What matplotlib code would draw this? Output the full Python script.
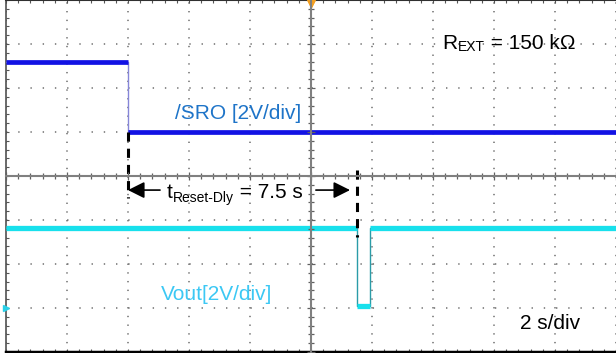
import matplotlib
matplotlib.use("Agg")
import matplotlib.pyplot as plt
from matplotlib.ticker import MultipleLocator

plt.rcParams['font.family'] = ['Liberation Sans', 'DejaVu Sans']

# time axis in seconds (2 s/div), levels in divisions from screen centre
sro_time = [-10.0, -6.0, -6.0, 10.0]
sro_level = [2.6, 2.6, 1.0, 1.0]

vout_time = [-10.0, 1.5, 1.5, 1.95, 1.95, 10.0]
vout_level = [-1.18, -1.18, -2.95, -2.95, -1.18, -1.18]
vout_ground = -3.0

reset_start = -6.0   # /SRO falls
reset_end = 1.5      # Vout pulses low, 7.5 s later

sro_label = "/SRO [2V/div]"
vout_label = "Vout[2V/div]"
timebase_label = "2 s/div"

SRO_BLUE = '#1212e4'
SRO_TEXT = '#1e74c8'
VOUT_CYAN = '#18e0ec'
VOUT_TEXT = '#3cc8f4'
GRID = '#6e6e6e'

fig = plt.figure(figsize=(6.16, 3.53), dpi=100)
ax = fig.add_axes([6 / 616, 1 / 353, 610 / 616, 352 / 353])
ax.set_xlim(-10, 10)
ax.set_ylim(-4, 4)

ax.xaxis.set_major_locator(MultipleLocator(2))
ax.xaxis.set_minor_locator(MultipleLocator(0.4))
ax.yaxis.set_major_locator(MultipleLocator(1))
ax.yaxis.set_minor_locator(MultipleLocator(0.2))
ax.tick_params(which='both', direction='in', top=True, bottom=True, left=True, right=False,
               labelbottom=False, labelleft=False, length=2.5, width=0.8, color='#555555')

# dotted graticule, dots on every minor division
ax.xaxis.grid(True, which='major', color=GRID, lw=1.1, ls=(0, (0.9, 4.8)))
ax.yaxis.grid(True, which='major', color=GRID, lw=1.1, ls=(0, (0.9, 7.1)))

ax.spines['right'].set_visible(False)
ax.spines['left'].set_color('#505050')
ax.spines['left'].set_linewidth(1.2)
ax.spines['top'].set_color('#303030')
ax.spines['top'].set_linewidth(1.5)
ax.spines['bottom'].set_color('black')
ax.spines['bottom'].set_linewidth(2.5)

# /SRO trace: thin falling edge, thick levels
ax.plot(sro_time, sro_level, color='#8686d8', lw=1, zorder=3)
ax.plot(sro_time[:2], sro_level[:2], color=SRO_BLUE, lw=3.4, solid_capstyle='butt', zorder=4)
ax.plot(sro_time[2:], sro_level[2:], color=SRO_BLUE, lw=3.4, solid_capstyle='butt', zorder=4)

# Vout trace
ax.plot(vout_time, vout_level, color='#2a9ca8', lw=1, zorder=3)
for i in range(0, len(vout_time), 2):
    ax.plot(vout_time[i:i + 2], vout_level[i:i + 2], color=VOUT_CYAN, lw=3.8,
            solid_capstyle='butt', zorder=4)

# markers: trigger position and Vout ground reference
ax.plot([0], [4.0], marker='v', color='#f5a020', ms=10, clip_on=False, zorder=8)
ax.plot([-10], [vout_ground], marker='>', color='#2ad0e8', ms=4, clip_on=False, zorder=6)

# delay markers
dash = dict(color='black', lw=2.2, ls=(0, (3, 2.3)), zorder=5)
ax.plot([reset_start, reset_start], [sro_level[2], -0.5], **dash)
ax.plot([reset_end, reset_end], [0.14, -1.39], **dash)

arrow_y = -0.32
head = dict(arrowstyle='-|>,head_length=1.0,head_width=0.5', color='black', lw=1.2,
            mutation_scale=10, shrinkA=0, shrinkB=0)
ax.annotate('', xy=(reset_start, arrow_y), xytext=(reset_start + 1.05, arrow_y), arrowprops=head, zorder=5)
ax.annotate('', xy=(reset_end - 0.22, arrow_y), xytext=(0.16, arrow_y), arrowprops=head, zorder=5)


def sub_text(x, y, main, sub, rest, drop=2.3):
    t1 = ax.text(x, y, main, fontsize=15, va='baseline', color='black', zorder=6)
    t2 = ax.annotate(sub, xy=(1, y), xycoords=(t1, 'data'), xytext=(0.3, -drop),
                     textcoords='offset points', fontsize=10, va='baseline', zorder=6)
    ax.annotate(rest, xy=(1, y), xycoords=(t2, 'data'), xytext=(0, 0),
                textcoords='offset points', fontsize=15, va='baseline', zorder=6)


sub_text(-4.72, -0.5, 't', 'Reset-Dly', ' = 7.5 s', drop=3)
sub_text(4.30, 2.89, 'R', 'EXT', ' = 150 k\u03a9', drop=1.6)

ax.text(-4.46, 1.30, sro_label, fontsize=15, color=SRO_TEXT, va='baseline', zorder=6)
ax.text(-4.92, -2.82, vout_label, fontsize=15, color=VOUT_TEXT, va='baseline', zorder=6)
ax.text(6.85, -3.48, timebase_label, fontsize=15, color='black', va='baseline', zorder=6)

# centre crosshair with its own tick marks, drawn over the traces
cx = fig.add_axes(ax.get_position())
cx.patch.set_visible(False)
cx.set_xlim(ax.get_xlim())
cx.set_ylim(ax.get_ylim())
cx.xaxis.set_major_locator(MultipleLocator(2))
cx.xaxis.set_minor_locator(MultipleLocator(0.4))
cx.yaxis.set_major_locator(MultipleLocator(1))
cx.yaxis.set_minor_locator(MultipleLocator(0.2))
for side in ['top', 'right']:
    cx.spines[side].set_visible(False)
for side in ['left', 'bottom']:
    cx.spines[side].set_position(('data', 0))
    cx.spines[side].set_color('#808080')
    cx.spines[side].set_linewidth(1.5)
cx.tick_params(which='both', direction='inout', labelbottom=False, labelleft=False,
               color='#606060', width=0.9)
cx.tick_params(which='minor', length=4)
cx.tick_params(which='major', length=6)
# trigger marker sits on top of the crosshair
cx.plot([0], [4.0], marker='v', color='#f5a020', ms=10, clip_on=False)

fig.savefig('out.png', dpi=100)
